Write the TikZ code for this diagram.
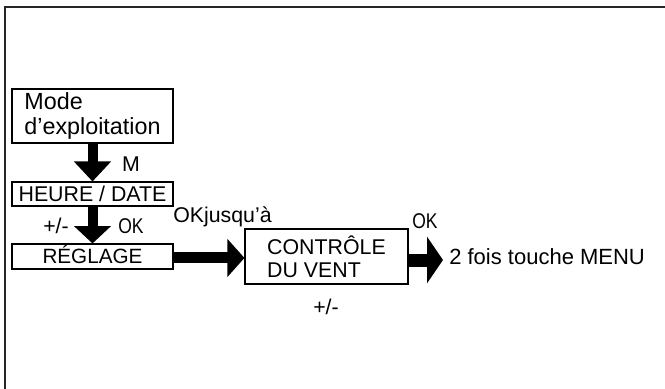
\documentclass[tikz,border=0pt]{standalone}
\usepackage{fontspec}
\setmainfont{Liberation Sans}
\usetikzlibrary{arrows.meta}
\newcommand{\capsfont}{\fontsize{16}{17.25}\selectfont}
\newcommand{\lowfont}{\fontsize{17.5}{18.75}\selectfont}
\newcommand{\narrowok}{\scalebox{0.82}[1]{OK}}
\begin{document}
\begin{tikzpicture}[x=0.75pt,y=-0.75pt,
  every node/.style={font=\capsfont, text=black},
  box/.style={draw=black, line width=0.8pt, inner sep=0pt, minimum width=120.75pt},
  lbl/.style={inner sep=0pt},
  frameline/.style={draw=black!85, line width=1.6pt}
]
\useasboundingbox (0,0) rectangle (665,389);
% frame
\coordinate (ftr) at (665,7);
\coordinate (ftl) at (5,7);
\coordinate (fbl) at (5,389);
\draw[frameline] (ftr) -- (ftl) -- (fbl);

% boxes
\node[box, minimum height=40.5pt, align=left, font=\lowfont] (mode) at (92.5,116) {Mode\\d’exploitation};
\node[box, minimum height=18pt, text height=11.4pt, text depth=0pt] (heure) at (92.5,194) {HEURE / DATE};
\node[box, minimum height=18.75pt, text height=11.1pt, text depth=0pt, font=\fontsize{15.5}{17}\selectfont] (regl) at (92.5,256.5) {RÉGLAGE};
\node[box, minimum width=122.25pt, minimum height=41.25pt, align=left] (ctrl) at (326.5,256.5) {CONTRÔLE\\DU VENT};
\node[lbl, anchor=west, inner xsep=4.5pt, font=\fontsize{16.5}{18}\selectfont] (menu) at (443,257) {2 fois touche MENU};

% labels
\node[lbl] (m) at (131,164) {M};
\node[lbl] (pm1) at (56,226) {+/-};
\node[lbl] (ok1) at (131,226) {\narrowok};
\node[lbl, anchor=west] (okj) at (173,217) {OKjusqu’à};
\node[lbl] (ok2) at (425,221) {\narrowok};
\node[lbl] (pm2) at (326,307) {+/-};

% arrows
\draw[draw=black, line width=7.5pt, -{Triangle[length=15pt,width=27pt]}] (mode.south) -- (heure.north);
\draw[draw=black, line width=7.5pt, -{Triangle[length=13pt,width=27pt]}] (heure.south) -- (regl.north);
\draw[draw=black, line width=8.25pt, -{Triangle[length=12.75pt,width=27.75pt]}] ([yshift=-1.1pt]regl.east) -- ([yshift=-1.1pt]regl.east -| ctrl.west);
\draw[draw=black, line width=9.75pt, -{Triangle[length=12pt,width=34.5pt]}] ([yshift=-2.25pt]ctrl.east |- menu.west) -- ([yshift=-2.25pt]menu.west);
\end{tikzpicture}
\end{document}
